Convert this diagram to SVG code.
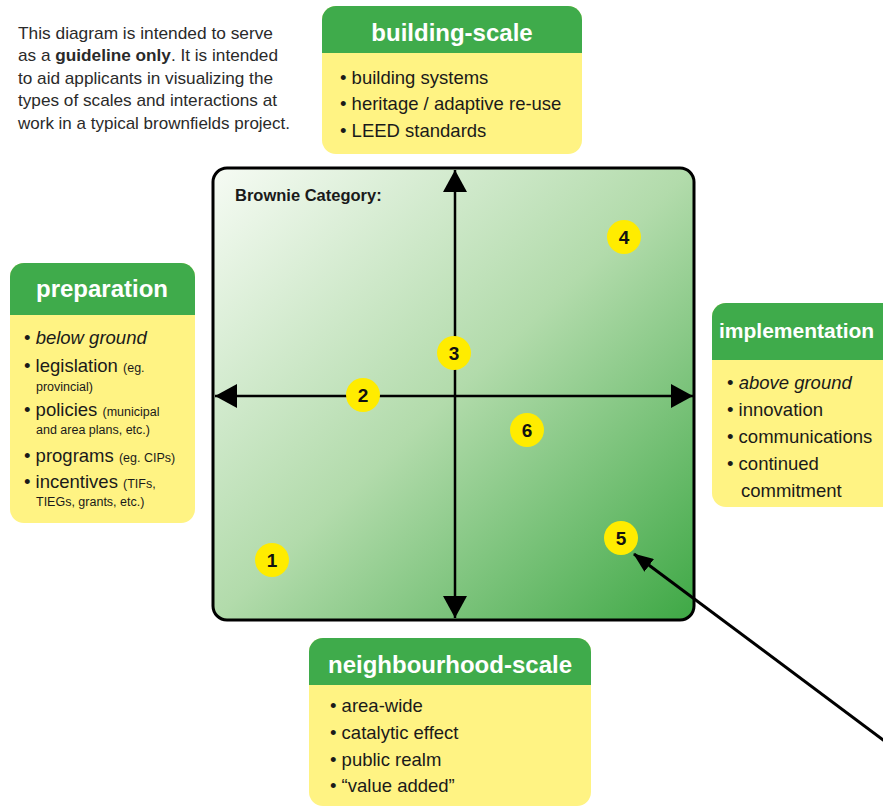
<svg xmlns="http://www.w3.org/2000/svg" width="883" height="808" viewBox="0 0 883 808">
<defs>
<linearGradient id="sq" x1="0" y1="0" x2="1" y2="1">
<stop offset="0" stop-color="#f6fbf4"/>
<stop offset="0.5" stop-color="#b2dbab"/>
<stop offset="1" stop-color="#3ea845"/>
</linearGradient>
<marker id="ah" viewBox="0 0 22 24" refX="22" refY="12" markerWidth="22" markerHeight="24" markerUnits="userSpaceOnUse" orient="auto">
<path d="M0,0 L22,12 L0,24 Z" fill="#000"/>
</marker>
<marker id="ah2" viewBox="0 0 20 16" refX="19" refY="8" markerWidth="20" markerHeight="16" markerUnits="userSpaceOnUse" orient="auto">
<path d="M0,0 L20,8 L0,16 Z" fill="#000"/>
</marker>
</defs>
<style>
text{font-family:"Liberation Sans",Arial,sans-serif;}
.intro{font-size:17px;fill:#2a2a2a;}
.title{font-size:24px;font-weight:bold;fill:#fff;}
.item{font-size:18.5px;fill:#1a1a1a;}
.sub{font-size:12.5px;fill:#1a1a1a;}
.yel{fill:#fff383;}
.grn{fill:#3fab4b;}
.num{font-size:19px;font-weight:bold;fill:#111;text-anchor:middle;}
.dot{fill:#ffec00;}
</style>
<rect width="883" height="808" fill="#fff"/>

<g id="intro">
<text class="intro" x="18" y="39" textLength="255" lengthAdjust="spacingAndGlyphs">This diagram is intended to serve</text>
<text class="intro" x="18" y="61" textLength="260" lengthAdjust="spacingAndGlyphs">as a <tspan font-weight="bold">guideline only</tspan>. It is intended</text>
<text class="intro" x="18" y="84" textLength="255" lengthAdjust="spacingAndGlyphs">to aid applicants in visualizing the</text>
<text class="intro" x="18" y="106" textLength="259" lengthAdjust="spacingAndGlyphs">types of scales and interactions at</text>
<text class="intro" x="18" y="129" textLength="272" lengthAdjust="spacingAndGlyphs">work in a typical brownfields project.</text>
</g>

<g id="building-scale">
<rect class="yel" x="322" y="6" width="260" height="148" rx="14"/>
<path class="grn" d="M322,53 V20 A14,14 0 0 1 336,6 H568 A14,14 0 0 1 582,20 V53 Z"/>
<text class="title" x="452" y="41" text-anchor="middle">building-scale</text>
<text class="item" x="340" y="84">• building systems</text>
<text class="item" x="340" y="110">• heritage / adaptive re-use</text>
<text class="item" x="340" y="137">• LEED standards</text>
</g>

<g id="preparation">
<rect class="yel" x="10" y="263" width="185" height="260" rx="14"/>
<path class="grn" d="M10,315 V277 A14,14 0 0 1 24,263 H181 A14,14 0 0 1 195,277 V315 Z"/>
<text class="title" x="102" y="297" text-anchor="middle">preparation</text>
<text class="item" x="24" y="344">• <tspan font-style="italic">below ground</tspan></text>
<text class="item" x="24" y="372">• legislation <tspan class="sub">(eg.</tspan></text>
<text class="sub" x="36" y="391">provincial)</text>
<text class="item" x="24" y="416">• policies <tspan class="sub">(municipal</tspan></text>
<text class="sub" x="36" y="434">and area plans, etc.)</text>
<text class="item" x="24" y="462">• programs <tspan class="sub">(eg. CIPs)</tspan></text>
<text class="item" x="24" y="488">• incentives <tspan class="sub">(TIFs,</tspan></text>
<text class="sub" x="36" y="506">TIEGs, grants, etc.)</text>
</g>

<g id="implementation">
<rect class="yel" x="712" y="303" width="200" height="204" rx="14"/>
<path class="grn" d="M712,360 V317 A14,14 0 0 1 726,303 H898 A14,14 0 0 1 912,317 V360 Z"/>
<text class="title" x="719" y="338" style="font-size:21px">implementation</text>
<text class="item" x="727" y="389">• <tspan font-style="italic">above ground</tspan></text>
<text class="item" x="727" y="416">• innovation</text>
<text class="item" x="727" y="443">• communications</text>
<text class="item" x="727" y="470">• continued</text>
<text class="item" x="741" y="497">commitment</text>
</g>

<g id="neighbourhood-scale">
<rect class="yel" x="309" y="638" width="282" height="168" rx="14"/>
<path class="grn" d="M309,685 V652 A14,14 0 0 1 323,638 H577 A14,14 0 0 1 591,652 V685 Z"/>
<text class="title" x="450" y="673" text-anchor="middle">neighbourhood-scale</text>
<text class="item" x="330" y="712">• area-wide</text>
<text class="item" x="330" y="739">• catalytic effect</text>
<text class="item" x="330" y="766">• public realm</text>
<text class="item" x="330" y="792">• “value added”</text>
</g>

<g id="brownie-category">
<rect x="213" y="168" width="481" height="452" rx="14" fill="url(#sq)" stroke="#000" stroke-width="3"/>
<text x="235" y="201" font-size="16.5" font-weight="bold" fill="#1a1a1a">Brownie Category:</text>
</g>

<g id="connectors" stroke="#000" fill="none">
<line x1="455" y1="396" x2="455" y2="170" stroke-width="2.5" marker-end="url(#ah)"/>
<line x1="455" y1="396" x2="455" y2="618" stroke-width="2.5" marker-end="url(#ah)"/>
<line x1="455" y1="396" x2="215" y2="396" stroke-width="2.5" marker-end="url(#ah)"/>
<line x1="455" y1="396" x2="693" y2="396" stroke-width="2.5" marker-end="url(#ah)"/>
<line x1="886" y1="742" x2="634" y2="554" stroke-width="3" marker-end="url(#ah2)"/>
</g>

<g id="n1"><circle class="dot" cx="272" cy="560" r="17"/><text class="num" x="272" y="567">1</text></g>
<g id="n2"><circle class="dot" cx="363" cy="395" r="17"/><text class="num" x="363" y="402">2</text></g>
<g id="n3"><circle class="dot" cx="454" cy="353" r="17"/><text class="num" x="454" y="360">3</text></g>
<g id="n4"><circle class="dot" cx="624" cy="237" r="17"/><text class="num" x="624" y="244">4</text></g>
<g id="n5"><circle class="dot" cx="621" cy="538" r="17"/><text class="num" x="621" y="545">5</text></g>
<g id="n6"><circle class="dot" cx="527" cy="430" r="17"/><text class="num" x="527" y="437">6</text></g>
</svg>
